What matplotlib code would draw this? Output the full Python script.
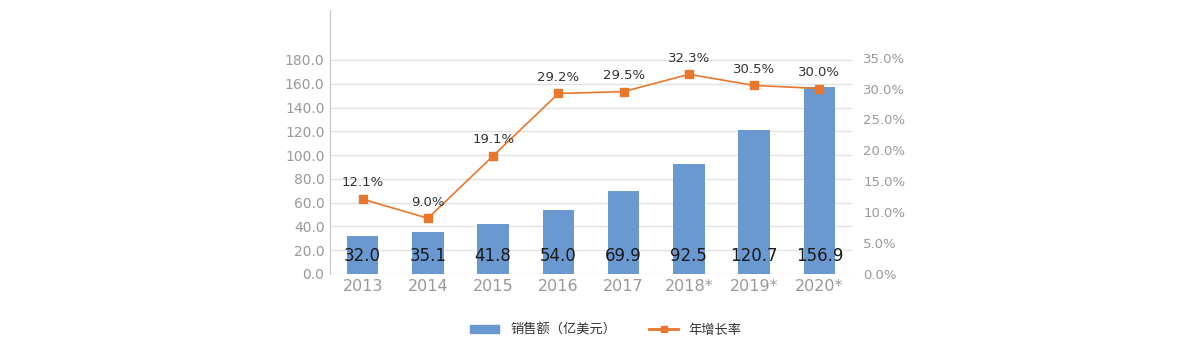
import numpy as np
import matplotlib.pyplot as plt
from matplotlib.lines import Line2D
from matplotlib.patches import Patch

plt.rcParams['font.family'] = ['DejaVu Sans', 'Noto Sans CJK SC']

years = ['2013', '2014', '2015', '2016', '2017', '2018*', '2019*', '2020*']
sales = [32.0, 35.1, 41.8, 54.0, 69.9, 92.5, 120.7, 156.9]
growth = [12.1, 9.0, 19.1, 29.2, 29.5, 32.3, 30.5, 30.0]

bar_color = '#6A98D0'
line_color = '#E8762B'
tick_gray = '#999999'

fig = plt.figure(figsize=(12, 3.59), dpi=100)
ax = fig.add_axes([0.275, 0.237, 0.435, 0.735])
x = np.arange(len(years))

ax.bar(x, sales, width=0.48, color=bar_color, zorder=2)
for xi, v in zip(x, sales):
    ax.text(xi, 15, f'{v:.1f}', ha='center', va='center', fontsize=12,
            color='#1A1A1A', zorder=5)

ax.set_xlim(-0.5, 7.5)
ax.set_ylim(0, 222)
ax.set_yticks(np.arange(0, 181, 20))
ax.set_yticklabels([f'{v:.1f}' for v in np.arange(0, 181, 20)])
ax.set_xticks(x)
ax.set_xticklabels(years)
ax.tick_params(axis='y', length=0, labelsize=10, labelcolor=tick_gray, pad=4)
ax.tick_params(axis='x', length=0, labelsize=11.5, labelcolor=tick_gray, pad=4)
ax.grid(axis='y', color='#E3E3E3', linewidth=1, zorder=0)
for s in ['top', 'right', 'bottom']:
    ax.spines[s].set_visible(False)
ax.spines['left'].set_color('#C8C8C8')

ax2 = ax.twinx()
ax2.plot(x, growth, color=line_color, linewidth=1.2, marker='s',
         markersize=6, zorder=3)
for xi, g in zip(x, growth):
    ax2.annotate(f'{g:.1f}%', (xi, g), xytext=(0, 7), textcoords='offset points',
                 ha='center', va='bottom', fontsize=9.5, color='#333333')
ax2.set_ylim(0, 42.7)
ax2.set_yticks(np.arange(0, 36, 5))
ax2.set_yticklabels([f'{v:.1f}%' for v in np.arange(0, 36, 5)])
ax2.tick_params(axis='y', length=0, labelsize=9.5, labelcolor=tick_gray, pad=8)
for s in ax2.spines.values():
    s.set_visible(False)

handles = [Patch(color=bar_color),
           Line2D([0], [0], color=line_color, marker='s', markersize=5, linewidth=2)]
fig.legend(handles, ['销售额（亿美元）', '年增长率'], loc='center',
           bbox_to_anchor=(0.505, 0.08), ncol=2, frameon=False,
           labelcolor='#333333', handlelength=2.2, handleheight=0.6,
           columnspacing=2.5, prop={'family': ['Noto Sans CJK SC'], 'size': 9.5})

fig.savefig('out.png', dpi=100)
